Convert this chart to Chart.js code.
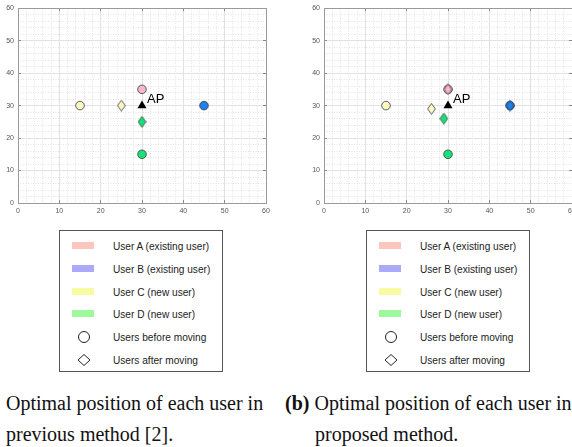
<!DOCTYPE html>
<html>
<head>
<meta charset="utf-8">
<script src="https://cdn.jsdelivr.net/npm/chart.js@4.4.1/dist/chart.umd.min.js"></script>
<style>
  body { margin: 0; width: 572px; height: 447px; overflow: hidden; background: #fff; position: relative; }
  canvas { position: absolute; top: 0; }
  #chartA { left: 0; }
  #chartB { left: 306px; }
  .legend { position: absolute; top: 230px; width: 164px; height: 142px; border: 1px solid #555; box-sizing: border-box; }
  .legend .row { position: absolute; left: 0; width: 160px; height: 16px; }
  .legend .patch { position: absolute; left: 12px; top: 4px; width: 22px; height: 7px; }
  .legend svg { position: absolute; left: 17px; top: 0; }
  .legend .txt { position: absolute; left: 53px; top: 0; line-height: 16px; white-space: nowrap;
    font-family: "Liberation Sans", Arial, sans-serif; font-size: 11.5px; color: #222;
    transform: scaleX(0.88); transform-origin: left center; }
  .caption { position: absolute; font-family: "Liberation Serif", "Times New Roman", serif; font-size: 20px;
    line-height: 31px; white-space: nowrap; color: #111; }
</style>
</head>
<body>
<canvas id="chartA" width="280" height="220"></canvas>
<canvas id="chartB" width="280" height="220"></canvas>
<div class="legend" id="legendA" style="left:59px"></div>
<div class="legend" id="legendB" style="left:366px"></div>
<div class="caption" style="left:6px; top:388px">Optimal position of each user in<br>previous method [2].</div>
<div class="caption" style="left:285px; top:388px"><b>(b)</b> Optimal position of each user in</div>
<div class="caption" style="left:315px; top:419px">proposed method.</div>
<script>
// axis range shared by both panels
const axisMin = 0;
const axisMax = 60;
const majorStep = 10;
const minorStep = 2;

// users A, B, C, D
const userNames = ['User A (existing user)', 'User B (existing user)', 'User C (new user)', 'User D (new user)'];
const beforeX = [30, 45, 15, 30];
const beforeY = [35, 30, 30, 15];
// previous method: only the new users get a new position
const prevAfterX = [null, null, 25, 30];
const prevAfterY = [null, null, 30, 25];
// proposed method
const propAfterX = [30, 45, 26, 29];
const propAfterY = [35, 30, 29, 26];
// access point
const apX = 30;
const apY = 30;
const shapeNames = ['Users before moving', 'Users after moving'];

const markerFill = ['#f6b8c6', '#1f80f0', '#fdf7c6', '#17e27a'];
const patchFill = ['#fcc6be', '#aaaaf8', '#f9fba2', '#9ef89e'];
const edge = '#3a3a3a';
const frameColor = '#9a9a9a';
const tickFont = { family: '"Liberation Sans", Arial, sans-serif', size: 7 };

function diamond(fill) {
  const c = document.createElement('canvas');
  c.width = 9; c.height = 12;
  const g = c.getContext('2d');
  g.beginPath();
  g.moveTo(4.5, 0.6); g.lineTo(8.4, 6); g.lineTo(4.5, 11.4); g.lineTo(0.6, 6);
  g.closePath();
  g.fillStyle = fill; g.fill();
  g.strokeStyle = edge; g.lineWidth = 0.8; g.stroke();
  return c;
}

const apLabel = {
  id: 'apLabel',
  afterDatasetsDraw(chart) {
    const ctx = chart.ctx;
    const px = chart.scales.x.getPixelForValue(apX);
    const py = chart.scales.y.getPixelForValue(apY);
    ctx.save();
    ctx.font = '13px "Liberation Sans", Arial, sans-serif';
    ctx.fillStyle = '#000';
    ctx.textBaseline = 'alphabetic';
    ctx.fillText('AP', px + 5, py - 2.5);
    ctx.restore();
  }
};

// labelled axes
function axis(pos, fitSize) {
  const horiz = pos === 'bottom';
  return {
    type: 'linear', position: pos, min: axisMin, max: axisMax, weight: 1,
    ticks: { stepSize: majorStep, font: tickFont, color: '#555', padding: 4, maxRotation: 0 },
    grid: { color: '#e2e2e2', drawTicks: false },
    border: { color: frameColor },
    afterFit: s => { if (horiz) s.height = fitSize; else s.width = fitSize; }
  };
}

// dotted minor grid
function minorAxis(pos) {
  return {
    type: 'linear', position: pos, min: axisMin, max: axisMax, weight: 2,
    ticks: { display: false, stepSize: minorStep, autoSkip: false, maxTicksLimit: 100 },
    grid: { color: c => (c.tick && c.tick.value % majorStep) ? '#e4e4e4' : 'rgba(0,0,0,0)', drawTicks: false },
    border: { display: false, dash: [1, 1.5] },
    afterFit: s => { s.width = 0; s.height = 0; }
  };
}

// box sides with short tick marks pointing inward (negative tickLength)
function frameAxis(pos, showBorder) {
  return {
    type: 'linear', position: pos, min: axisMin, max: axisMax, weight: -1,
    ticks: { display: false, stepSize: majorStep, padding: 0 },
    grid: { display: true, drawOnChartArea: false, drawTicks: true, tickLength: -3, tickColor: '#8a8a8a' },
    border: { display: showBorder, color: frameColor },
    afterFit: s => { s.width = 0; s.height = 0; }
  };
}

function makeChart(id, afterX, afterY, diamondsOnTop) {
  const before = beforeX.map((x, i) => ({ x: x, y: beforeY[i] }));
  const after = afterX.map((x, i) => ({ x: x, y: afterY[i] }));
  return new Chart(document.getElementById(id), {
    type: 'scatter',
    data: {
      datasets: [
        { label: 'before', data: before, order: diamondsOnTop ? 3 : 2,
          pointStyle: 'circle', pointRadius: 4.3, pointBackgroundColor: markerFill,
          pointBorderColor: edge, pointBorderWidth: 0.8 },
        { label: 'after', data: after, order: diamondsOnTop ? 2 : 3,
          pointStyle: markerFill.map(diamond), pointRadius: 5 },
        { label: 'AP', data: [{ x: apX, y: apY }], order: 1,
          pointStyle: 'triangle', pointRadius: 5.2, pointBackgroundColor: '#000',
          pointBorderColor: '#000', pointBorderWidth: 0 }
      ]
    },
    options: {
      responsive: false,
      animation: false,
      events: [],
      layout: { padding: { top: 7, right: 14, left: 0, bottom: 0 } },
      plugins: { legend: { display: false }, tooltip: { enabled: false } },
      scales: {
        x: axis('bottom', 17),
        y: axis('left', 18),
        xMinor: minorAxis('bottom'),
        yMinor: minorAxis('left'),
        xBottom: frameAxis('bottom', false),
        yLeft: frameAxis('left', false),
        xTop: frameAxis('top', true),
        yRight: frameAxis('right', true)
      }
    },
    plugins: [apLabel]
  });
}

makeChart('chartA', prevAfterX, prevAfterY, false);
makeChart('chartB', propAfterX, propAfterY, true);

// boxed legend below each panel
function buildLegend(id) {
  const box = document.getElementById(id);
  const labels = userNames.concat(shapeNames);
  labels.forEach((name, i) => {
    const row = document.createElement('div');
    row.className = 'row';
    row.style.top = (7 + i * 22.8) + 'px';
    let sym;
    if (i < userNames.length) {
      sym = '<div class="patch" style="background:' + patchFill[i] + '"></div>';
    } else if (i === userNames.length) {
      sym = '<svg width="14" height="16"><circle cx="7" cy="8" r="5.5" fill="none" stroke="#222" stroke-width="1"/></svg>';
    } else {
      sym = '<svg width="14" height="16"><path d="M7 2.5 L13 8 L7 13.5 L1 8 Z" fill="none" stroke="#222" stroke-width="1"/></svg>';
    }
    row.innerHTML = sym + '<span class="txt">' + name + '</span>';
    box.appendChild(row);
  });
}
buildLegend('legendA');
buildLegend('legendB');
</script>
</body>
</html>
